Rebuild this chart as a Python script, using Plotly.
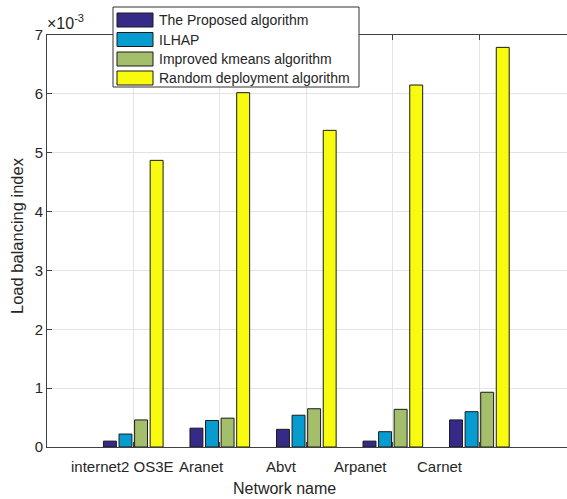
import plotly.graph_objects as go

# ---- data (values in units of 1e-3) ----
networks = ["internet2 OS3E", "Aranet", "Abvt", "Arpanet", "Carnet"]
series_names = ["The Proposed algorithm", "ILHAP", "Improved kmeans algorithm", "Random deployment algorithm"]
proposed = [0.10, 0.32, 0.30, 0.10, 0.46]
ilhap = [0.22, 0.45, 0.54, 0.26, 0.60]
kmeans = [0.46, 0.49, 0.65, 0.64, 0.93]
random_dep = [4.87, 6.02, 5.38, 6.15, 6.79]
y_ticks = [0, 1, 2, 3, 4, 5, 6, 7]

colors = ["#352a87", "#079cd0", "#a5be6b", "#f9fb0e"]
series = [proposed, ilhap, kmeans, random_dep]

W, H = 567, 499
L, R, T, B = 47, 0, 35, 52
PW, PH = W - L - R, H - T - B
FONT = "Liberation Sans, Arial, Helvetica, sans-serif"
TXT = "#262626"

def px(xp):
    return (xp - L) / PW

def py(yp):
    return (H - B - yp) / PH

xpos = list(range(1, len(networks) + 1))

fig = go.Figure()
for name, vals, col in zip(series_names, series, colors):
    fig.add_trace(go.Bar(
        x=xpos, y=vals, name=name,
        marker=dict(color=col, line=dict(color="#1a1a1a", width=1)),
        showlegend=False,
    ))

# tick labels (slightly offset to the left, as in the reference)
label_shift = [-11, -18, -25, -32, -39]
annotations = []
for xv, lab, sh in zip(xpos, networks, label_shift):
    annotations.append(dict(
        x=xv, y=0, xref="x", yref="paper", text=lab, showarrow=False,
        xanchor="center", yanchor="top", xshift=sh, yshift=-9,
        font=dict(family=FONT, size=15, color=TXT),
    ))

# axis titles
annotations.append(dict(
    x=px(284), y=py(488), xref="paper", yref="paper", text="Network name",
    showarrow=False, xanchor="center", yanchor="middle",
    font=dict(family=FONT, size=16, color=TXT),
))
annotations.append(dict(
    x=px(17), y=py(236), xref="paper", yref="paper", text="Load balancing index",
    showarrow=False, xanchor="center", yanchor="middle", textangle=-90,
    font=dict(family=FONT, size=16.5, color=TXT),
))
# exponent
annotations.append(dict(
    x=px(45), y=py(34), xref="paper", yref="paper", text="×10<sup>-3</sup>",
    showarrow=False, xanchor="left", yanchor="bottom",
    font=dict(family=FONT, size=16, color=TXT),
))

# manual legend (MATLAB style)
shapes = [dict(type="rect", xref="paper", yref="paper",
               x0=px(113), x1=px(359), y0=py(87), y1=py(7),
               line=dict(color="#333333", width=1), fillcolor="white", layer="above")]
row_y = [20, 39.5, 59, 78]
for name, col, ry in zip(series_names, colors, row_y):
    shapes.append(dict(type="rect", xref="paper", yref="paper",
                       x0=px(117), x1=px(153), y0=py(ry + 7), y1=py(ry - 7),
                       line=dict(color="#1a1a1a", width=1), fillcolor=col, layer="above"))
    annotations.append(dict(
        x=px(157), y=py(ry), xref="paper", yref="paper", text=name,
        showarrow=False, xanchor="left", yanchor="middle",
        font=dict(family=FONT, size=14, color=TXT),
    ))

fig.update_layout(
    width=W, height=H,
    margin=dict(l=L, r=R, t=T, b=B, pad=0),
    paper_bgcolor="white", plot_bgcolor="white",
    barmode="group", bargap=0.28, bargroupgap=0.17,
    annotations=annotations, shapes=shapes,
    font=dict(family=FONT, color=TXT),
    hovermode=False,
)
x0 = 1 - (134 - 47) / 87.25
fig.update_xaxes(
    range=[x0, x0 + PW / 87.25 + 0.05], tickvals=xpos, showticklabels=False,
    showgrid=True, gridcolor="#e3e3e3", gridwidth=1,
    showline=True, linecolor="#404040", linewidth=1, mirror="ticks",
    ticks="inside", ticklen=5, tickcolor="#404040", zeroline=False,
)
fig.update_yaxes(
    range=[0, 7], tickvals=y_ticks, ticktext=[str(v) for v in y_ticks],
    showgrid=True, gridcolor="#e3e3e3", gridwidth=1,
    showline=True, linecolor="#404040", linewidth=1,
    ticks="inside", ticklen=5, tickcolor="#404040", zeroline=False,
    tickfont=dict(family=FONT, size=15, color=TXT),
)

fig.write_html(
    "out.html",
    config={"displayModeBar": False, "staticPlot": True},
    post_script="document.body.style.margin='0';document.body.style.overflow='hidden';",
)
